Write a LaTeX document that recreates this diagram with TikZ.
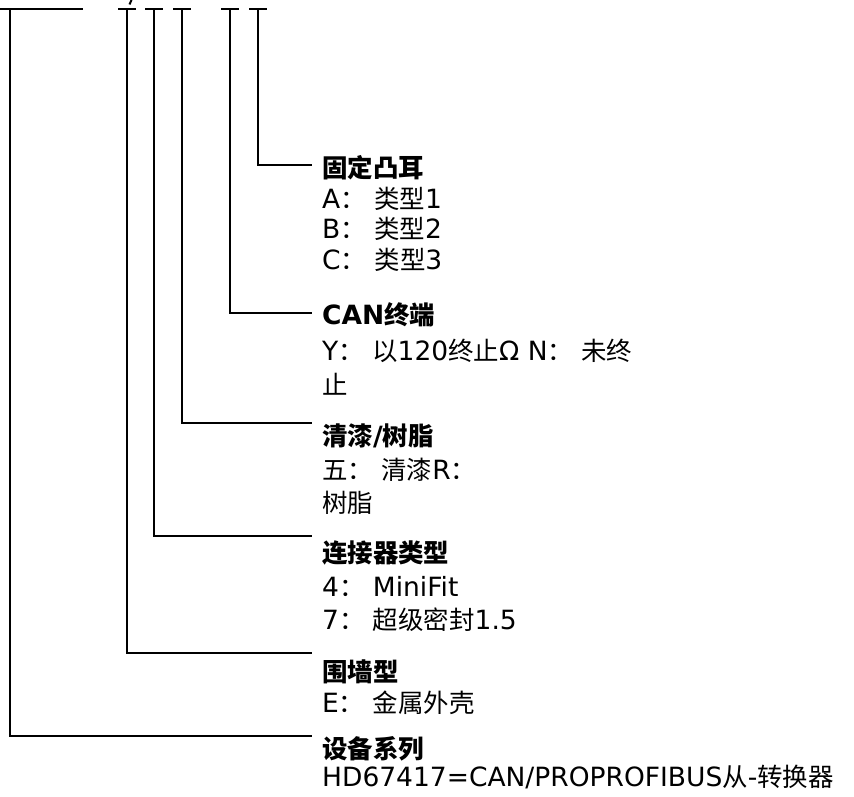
\documentclass[tikz,border=0pt]{standalone}
\usepackage{fontspec}
\setmainfont{DejaVu Sans}
\newfontfamily\zhfont[Scale=0.96]{Noto Sans CJK SC}
\newcommand\zh[1]{{\zhfont #1}}
\begin{document}
\begin{tikzpicture}[x=1pt,y=-1pt,
  conn/.style={draw=black, line width=2.5pt},
  lbl/.style={anchor=base west, inner sep=0pt, font=\fontsize{26.5}{30}\selectfont},
  ttl/.style={anchor=base west, inner sep=0pt, font=\fontsize{26.5}{30}\selectfont\bfseries}]
\useasboundingbox (0,0) rectangle (854,797);

% top marks (clipped code string)
\coordinate (b0) at (0,9);   \coordinate (b1) at (83,9);
\coordinate (v1) at (10,9);
\coordinate (v2) at (127,9);
\coordinate (v3) at (154,9);
\coordinate (v4) at (182,9);
\coordinate (v5) at (230,9);
\coordinate (v6) at (258,9);
\draw[conn] (b0) -- (b1);
\foreach \n in {v2,v3,v4,v5,v6}{
  \draw[conn] ([xshift=-9pt]\n) -- ([xshift=9pt]\n);
}
\coordinate (s0) at (129.5,4.5); \coordinate (s1) at (131.5,0);
\draw[conn, line width=2pt] (s0) -- (s1);

% line end points
\coordinate (e6) at (312,165);
\coordinate (e5) at (312,313);
\coordinate (e4) at (312,423);
\coordinate (e3) at (312,536);
\coordinate (e2) at (312,653);
\coordinate (e1) at (312,736);

\draw[conn] (v6) |- (e6);
\draw[conn] (v5) |- (e5);
\draw[conn] (v4) |- (e4);
\draw[conn] (v3) |- (e3);
\draw[conn] (v2) |- (e2);
\draw[conn] (v1) |- (e1);

% group 1
\node[ttl] (t1) at (322,177) {\zh{固定凸耳}};
\node[lbl] (t1a) at (322,208) {A\zh{：} \zh{类型}1};
\node[lbl] (t1b) at (322,238) {B\zh{：} \zh{类型}2};
\node[lbl] (t1c) at (322,269) {C\zh{：} \zh{类型}3};
% group 2
\node[ttl] (t2) at (322,324) {CAN\zh{终端}};
\node[lbl] (t2a) at (322,360) {Y\zh{：} \zh{以}120\zh{终止}Ω N\zh{：} \zh{未终}};
\node[lbl] (t2b) at (322,394) {\zh{止}};
% group 3
\node[ttl] (t3) at (322,445) {\zh{清漆}/\zh{树脂}};
\node[lbl] (t3a) at (322,479) {\zh{五：} \zh{清漆}R\zh{：}};
\node[lbl] (t3b) at (322,512) {\zh{树脂}};
% group 4
\node[ttl] (t4) at (322,562) {\zh{连接器类型}};
\node[lbl] (t4a) at (322,596) {4\zh{：} MiniFit};
\node[lbl] (t4b) at (322,629) {7\zh{：} \zh{超级密封}1.5};
% group 5
\node[ttl] (t5) at (322,681) {\zh{围墙型}};
\node[lbl] (t5a) at (322,712) {E\zh{：} \zh{金属外壳}};
% group 6
\node[ttl] (t6) at (322,758) {\zh{设备系列}};
\node[lbl] (t6a) at (322,786) {HD67417=CAN/PROPROFIBUS\zh{从}-\zh{转换器}};
\end{tikzpicture}
\end{document}
